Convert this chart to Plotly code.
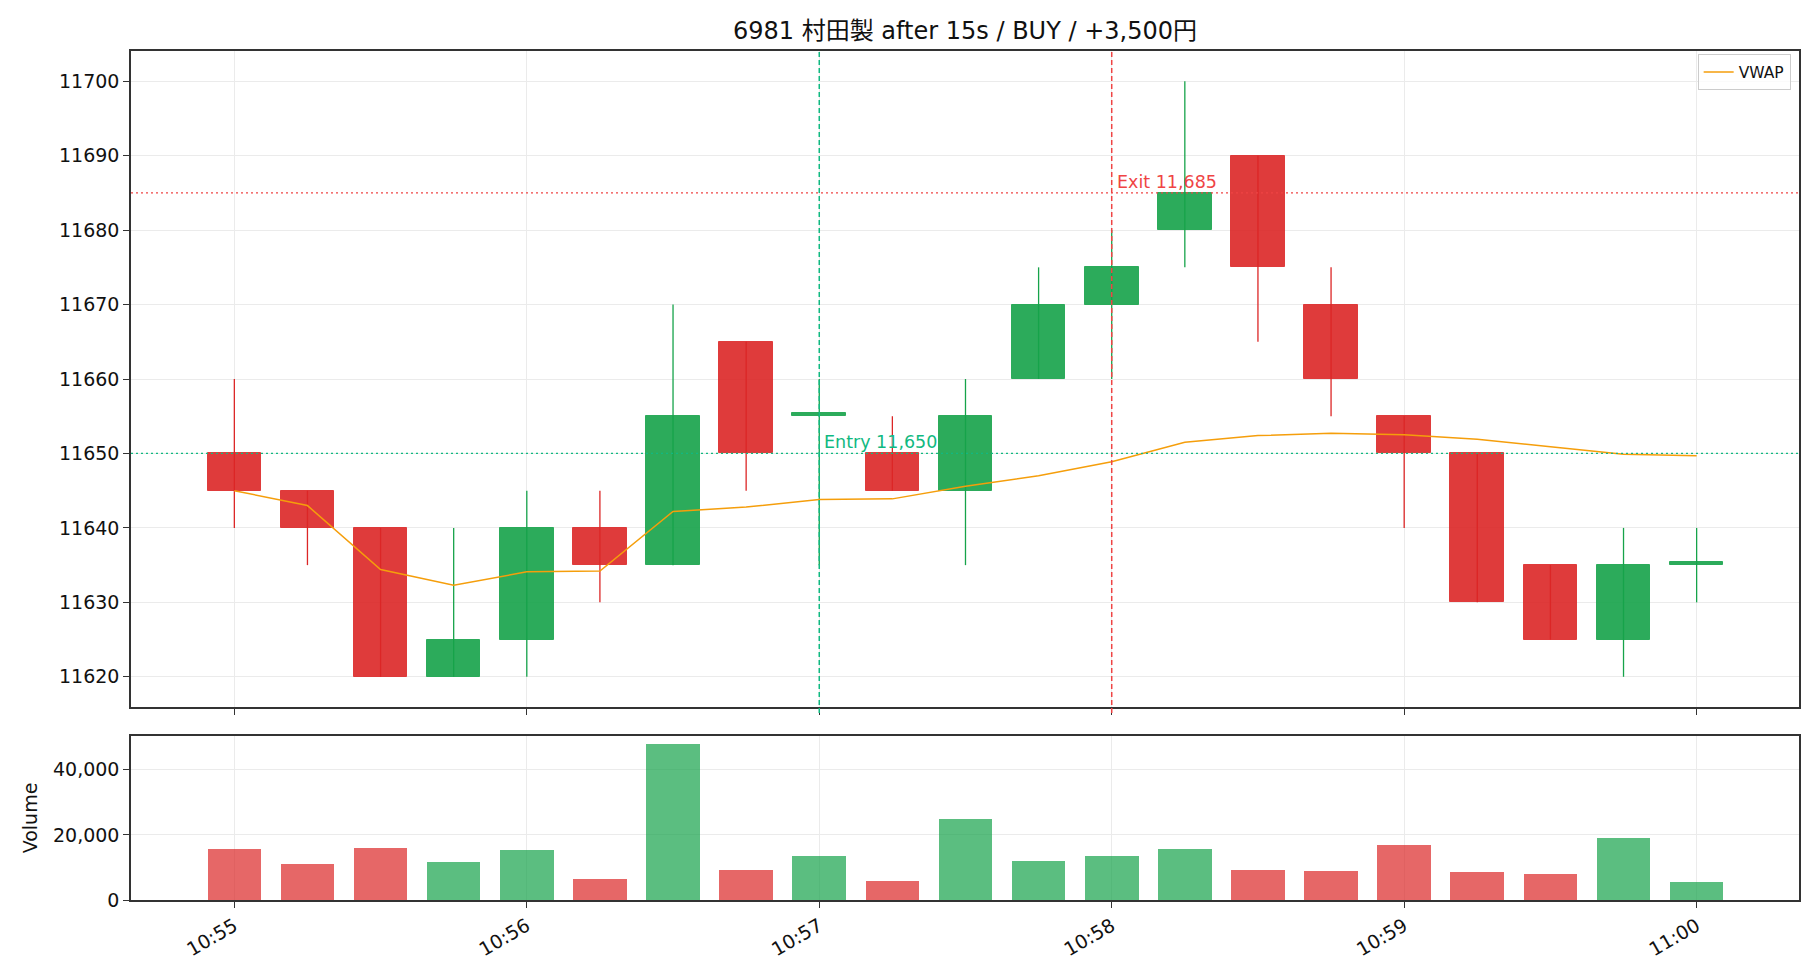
import plotly.graph_objects as go

times = ["10:55:00","10:55:15","10:55:30","10:55:45","10:56:00","10:56:15","10:56:30",
         "10:56:45","10:57:00","10:57:15","10:57:30","10:57:45","10:58:00","10:58:15",
         "10:58:30","10:58:45","10:59:00","10:59:15","10:59:30","10:59:45","11:00:00"]
opens  = [11650,11645,11640,11620,11625,11640,11635,11665,11655,11650,11645,11660,11670,11680,11690,11670,11655,11650,11635,11625,11635]
highs  = [11660,11645,11640,11640,11645,11645,11670,11665,11660,11655,11660,11675,11680,11700,11690,11675,11655,11650,11635,11640,11640]
lows   = [11640,11635,11620,11620,11620,11630,11635,11645,11635,11645,11635,11660,11660,11675,11665,11655,11640,11630,11625,11620,11630]
closes = [11645,11640,11620,11625,11640,11635,11655,11650,11655,11645,11655,11670,11675,11685,11675,11660,11650,11630,11625,11635,11635]
volumes = [15700,11200,16100,11800,15500,6600,48000,9200,13400,6000,25000,11900,13600,15800,9300,8800,17000,8700,8100,19200,5400]
vwap = [11645.0,11643.0,11634.4,11632.3,11634.1,11634.2,11642.2,11642.8,11643.8,11643.9,11645.6,
        11647.0,11648.9,11651.5,11652.4,11652.7,11652.5,11651.9,11650.9,11649.9,11649.7]

entry_time, entry_price = "10:57:00", 11650
exit_time, exit_price = "10:58:00", 11685
title = "6981 村田製 after 15s / BUY / +3,500円"

DAY = "2024-01-01 "
x = [DAY + t for t in times]
GREEN, RED = "#16a34a", "#dc2626"
ENTRY_C, EXIT_C = "#10b981", "#ef4444"
VWAP_C = "#f59e0b"
FONT = "DejaVu Sans, Noto Sans CJK JP"

up = [c >= o for o, c in zip(opens, closes)]
cols = [GREEN if u else RED for u in up]

fig = go.Figure()

# bodies
base = [min(o, c) for o, c in zip(opens, closes)]
height = [max(abs(c - o), 0.4) for o, c in zip(opens, closes)]
fig.add_trace(go.Bar(x=x, y=height, base=base, width=11000,
                     marker=dict(color=cols, opacity=0.9, line=dict(color=cols, width=1)),
                     showlegend=False, xaxis="x", yaxis="y"))

# wicks
for flag, col in ((True, GREEN), (False, RED)):
    wx, wy = [], []
    for xi, h, l, u in zip(x, highs, lows, up):
        if u == flag:
            wx += [xi, xi, None]
            wy += [l, h, None]
    fig.add_trace(go.Scatter(x=wx, y=wy, mode="lines", line=dict(color=col, width=1.3),
                             showlegend=False, hoverinfo="skip", xaxis="x", yaxis="y"))

# VWAP
fig.add_trace(go.Scatter(x=x, y=vwap, mode="lines", name="VWAP",
                         line=dict(color=VWAP_C, width=1.5), xaxis="x", yaxis="y"))

# volume
fig.add_trace(go.Bar(x=x, y=volumes, width=11000, marker=dict(color=cols, opacity=0.7, line=dict(width=0)),
                     showlegend=False, xaxis="x2", yaxis="y2"))

shapes = [
    dict(type="line", xref="x", yref="y domain", x0=DAY + entry_time, x1=DAY + entry_time, y0=-0.009, y1=1,
         line=dict(color=ENTRY_C, width=1.5, dash="5px,3px")),
    dict(type="line", xref="x", yref="y domain", x0=DAY + exit_time, x1=DAY + exit_time, y0=-0.009, y1=1,
         line=dict(color=EXIT_C, width=1.5, dash="5px,3px")),
    dict(type="line", xref="x domain", yref="y", x0=0, x1=1, y0=entry_price, y1=entry_price,
         line=dict(color=ENTRY_C, width=1.2, dash="2px,3px")),
    dict(type="line", xref="x domain", yref="y", x0=0, x1=1, y0=exit_price, y1=exit_price,
         line=dict(color=EXIT_C, width=1.2, dash="2px,3px")),
]

annotations = [
    dict(x=DAY + entry_time, y=entry_price, xref="x", yref="y", text=f"Entry {entry_price:,}",
         showarrow=False, xanchor="left", yanchor="bottom", xshift=3, yshift=-1,
         font=dict(color=ENTRY_C, size=17.5, family=FONT)),
    dict(x=DAY + exit_time, y=exit_price, xref="x", yref="y", text=f"Exit {exit_price:,}",
         showarrow=False, xanchor="left", yanchor="bottom", xshift=3, yshift=-1,
         font=dict(color=EXIT_C, size=17.5, family=FONT)),
]

xr = [DAY + "10:54:38.8", DAY + "11:00:21.0"]
axis_common = dict(showline=True, linecolor="#333333", linewidth=1.5, mirror=True,
                   ticks="outside", ticklen=6, tickcolor="#333333", tickwidth=1.3,
                   showgrid=True, gridcolor="#ebebeb", gridwidth=1, zeroline=False,
                   tickfont=dict(size=19, family=FONT, color="#111111"))

fig.update_layout(
    width=1820, height=980,
    margin=dict(l=131, r=21, t=51, b=80),
    paper_bgcolor="white", plot_bgcolor="white",
    barmode="overlay", bargap=0,
    title=dict(text=title, xref="paper", x=0.5, xanchor="center", y=1 - 31 / 980, yanchor="middle",
               font=dict(size=24, family=FONT, color="#111111")),
    font=dict(family=FONT),
    xaxis=dict(domain=[0, 1], anchor="y", type="date", range=xr, tick0=DAY + "10:55:00", dtick=60000,
               showticklabels=False, **axis_common),
    yaxis=dict(domain=[0.2273, 1], anchor="x", range=[11615.94, 11704.06], dtick=10, tickformat="d",
               **axis_common),
    xaxis2=dict(domain=[0, 1], anchor="y2", type="date", range=xr, tick0=DAY + "10:55:00", dtick=60000,
                tickformat="%H:%M", tickangle=-30, matches="x", **axis_common),
    yaxis2=dict(domain=[0, 0.1932], anchor="x2", range=[0, 50400], dtick=20000, tickformat=",d",
                title=dict(text="Volume", font=dict(size=19, family=FONT, color="#111111"), standoff=10),
                **axis_common),
    legend=dict(x=0.995, y=0.996, xanchor="right", yanchor="top", xref="paper", yref="paper",
                bgcolor="rgba(255,255,255,0.8)", bordercolor="#cccccc", borderwidth=1,
                font=dict(size=15.5, family=FONT, color="#111111"), itemwidth=30),
    shapes=shapes, annotations=annotations,
)

fig.write_html("out.html")
